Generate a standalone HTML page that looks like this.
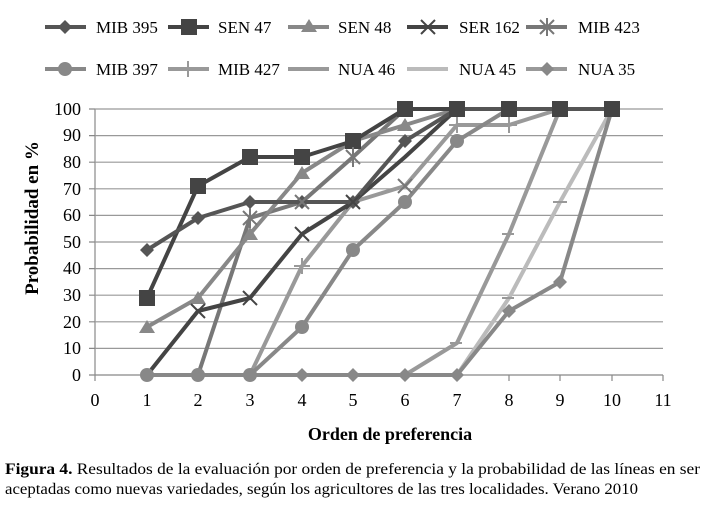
<!DOCTYPE html><html><head><style>body{margin:0;background:#fff}svg{display:block}text{font-family:"Liberation Serif",serif}</style></head><body>
<svg width="703" height="507" viewBox="0 0 703 507">
<g stroke="#888" stroke-width="1.2">
<line x1="95" y1="375" x2="663" y2="375"/><line x1="95" y1="109" x2="95" y2="375"/>
<g stroke="#999"><line x1="95" y1="348.4" x2="663" y2="348.4"/><line x1="95" y1="321.8" x2="663" y2="321.8"/><line x1="95" y1="295.2" x2="663" y2="295.2"/><line x1="95" y1="268.6" x2="663" y2="268.6"/><line x1="95" y1="242" x2="663" y2="242"/><line x1="95" y1="215.4" x2="663" y2="215.4"/><line x1="95" y1="188.8" x2="663" y2="188.8"/><line x1="95" y1="162.2" x2="663" y2="162.2"/><line x1="95" y1="135.6" x2="663" y2="135.6"/><line x1="95" y1="109" x2="663" y2="109"/></g>
<path d="M95,375v6M147,375v6M198,375v6M250,375v6M302,375v6M353,375v6M405,375v6M457,375v6M509,375v6M560,375v6M612,375v6M663,375v6M89,375h6M89,348.4h6M89,321.8h6M89,295.2h6M89,268.6h6M89,242h6M89,215.4h6M89,188.8h6M89,162.2h6M89,135.6h6M89,109h6"/>
</g>
<g font-size="18" text-anchor="end">
<text x="81" y="381">0</text><text x="81" y="354">10</text><text x="81" y="328">20</text><text x="81" y="301">30</text><text x="81" y="274">40</text><text x="81" y="248">50</text><text x="81" y="221">60</text><text x="81" y="195">70</text><text x="81" y="168">80</text><text x="81" y="141">90</text><text x="81" y="115">100</text></g>
<g font-size="18" text-anchor="middle">
<text x="95" y="406">0</text><text x="147" y="406">1</text><text x="198" y="406">2</text><text x="250" y="406">3</text><text x="302" y="406">4</text><text x="353" y="406">5</text><text x="405" y="406">6</text><text x="457" y="406">7</text><text x="509" y="406">8</text><text x="560" y="406">9</text><text x="612" y="406">10</text><text x="663" y="406">11</text>
<text x="390" y="440" font-weight="bold" font-size="18">Orden de preferencia</text>
<text transform="translate(38,218) rotate(-90)" font-weight="bold" font-size="19">Probabilidad en %</text></g>
<g fill="none" stroke-width="4" stroke-linejoin="round">
<polyline stroke="#999" points="405,375 457,343 509,234 560,109 612,109"/>
<polyline stroke="#bbb" points="457,375 509,298 560,202 612,109"/>
<polyline stroke="#888" points="147,375 457,375 509,311 560,282 612,109"/>
<polyline stroke="#999" points="250,375 302,266 353,202 405,186 457,125 509,125 560,109 612,109"/>
<polyline stroke="#888" points="147,375 250,375 302,327 353,250 405,202 457,141 509,109 612,109"/>
<polyline stroke="#777" points="198,375 250,218 302,202 353,157 405,109 612,109"/>
<polyline stroke="#444" points="147,375 198,311 250,298 302,234 353,202 405,157 457,109 612,109"/>
<polyline stroke="#888" points="147,327 198,298 250,234 302,173 353,141 405,125 457,109 612,109"/>
<polyline stroke="#444" points="147,298 198,186 250,157 302,157 353,141 405,109 612,109"/>
<polyline stroke="#555" points="147,250 198,218 250,202 302,202 353,202 405,141 457,109 612,109"/>
</g>
<g fill="#888"><circle cx="147" cy="375" r="7"/><circle cx="198" cy="375" r="7"/><circle cx="250" cy="375" r="7"/><circle cx="302" cy="327" r="7"/><circle cx="353" cy="250" r="7"/><circle cx="405" cy="202" r="7"/><circle cx="457" cy="141" r="7"/><circle cx="509" cy="109" r="7"/><circle cx="612" cy="109" r="7"/>
<path d="M302,368l7,7-7,7-7-7zM353,368l7,7-7,7-7-7zM405,368l7,7-7,7-7-7zM457,368l7,7-7,7-7-7zM509,304l7,7-7,7-7-7zM560,275l7,7-7,7-7-7z"/>
<path d="M147,320l8,13h-16zM198,291l8,13h-16zM250,227l8,13h-16zM302,166l8,13h-16zM353,134l8,13h-16zM405,118l8,13h-16z"/></g>
<g fill="#444"><rect x="139" y="290" width="16" height="16"/><rect x="190" y="178" width="16" height="16"/><rect x="242" y="149" width="16" height="16"/><rect x="294" y="149" width="16" height="16"/><rect x="345" y="133" width="16" height="16"/><rect x="397" y="101" width="16" height="16"/><rect x="449" y="101" width="16" height="16"/><rect x="501" y="101" width="16" height="16"/><rect x="552" y="101" width="16" height="16"/><rect x="604" y="101" width="16" height="16"/></g>
<g fill="#555"><path d="M147,243l7,7-7,7-7-7zM198,211l7,7-7,7-7-7zM250,195l7,7-7,7-7-7zM302,195l7,7-7,7-7-7zM353,195l7,7-7,7-7-7zM405,134l7,7-7,7-7-7z"/></g>
<g stroke="#444" stroke-width="2"><path d="M191,304l14,14m0-14l-14,14M243,291l14,14m0-14l-14,14M295,227l14,14m0-14l-14,14M346,195l14,14m0-14l-14,14"/></g>
<g stroke="#777" stroke-width="2"><path d="M243,211l14,14m0-14l-14,14M250,208v20M295,195l14,14m0-14l-14,14M346,150l14,14m0-14l-14,14M353,147v20M398,179l14,14m0-14l-14,14"/></g>
<g stroke="#999" stroke-width="2"><path d="M302,258v16M294,266h16M457,117v16M449,125h16M509,117v16M501,125h16M450,343h12M502,234h12M502,298h12M553,202h14"/></g>
<g stroke-width="4" fill="none">
<line x1="45" y1="27" x2="86" y2="27" stroke="#555"/><line x1="168" y1="27" x2="209" y2="27" stroke="#444"/><line x1="288" y1="27" x2="329" y2="27" stroke="#888"/><line x1="407" y1="27" x2="448" y2="27" stroke="#444"/><line x1="526" y1="27" x2="567" y2="27" stroke="#777"/>
<line x1="45" y1="69" x2="86" y2="69" stroke="#888"/><line x1="168" y1="69" x2="209" y2="69" stroke="#999"/><line x1="288" y1="69" x2="329" y2="69" stroke="#999"/><line x1="407" y1="69" x2="448" y2="69" stroke="#bbb"/><line x1="526" y1="69" x2="567" y2="69" stroke="#999"/></g>
<path d="M65,20l7,7-7,7-7-7z" fill="#555"/><rect x="181" y="19" width="16" height="16" fill="#444"/><path d="M309,19l8,13h-16z" fill="#888"/>
<path d="M421,20l14,14m0-14l-14,14" stroke="#444" stroke-width="2"/><path d="M540,20l14,14m0-14l-14,14M547,18v18" stroke="#777" stroke-width="2"/>
<circle cx="65" cy="69" r="7" fill="#888"/><path d="M188,61v16" stroke="#999" stroke-width="2"/><path d="M547,62l7,7-7,7-7-7z" fill="#888"/>
<g font-size="17"><text x="96" y="33">MIB 395</text><text x="218" y="33">SEN 47</text><text x="338" y="33">SEN 48</text><text x="459" y="33">SER 162</text><text x="578" y="33">MIB 423</text>
<text x="96" y="75">MIB 397</text><text x="218" y="75">MIB 427</text><text x="338" y="75">NUA 46</text><text x="459" y="75">NUA 45</text><text x="578" y="75">NUA 35</text></g>
<g font-size="16"><text x="5" y="474" textLength="695" lengthAdjust="spacingAndGlyphs"><tspan font-weight="bold">Figura 4.</tspan> Resultados de la evaluación por orden de preferencia y la probabilidad de las líneas en ser</text>
<text x="5" y="494" textLength="633" lengthAdjust="spacingAndGlyphs">aceptadas como nuevas variedades, según los agricultores de las tres localidades. Verano 2010</text></g>
</svg></body></html>
